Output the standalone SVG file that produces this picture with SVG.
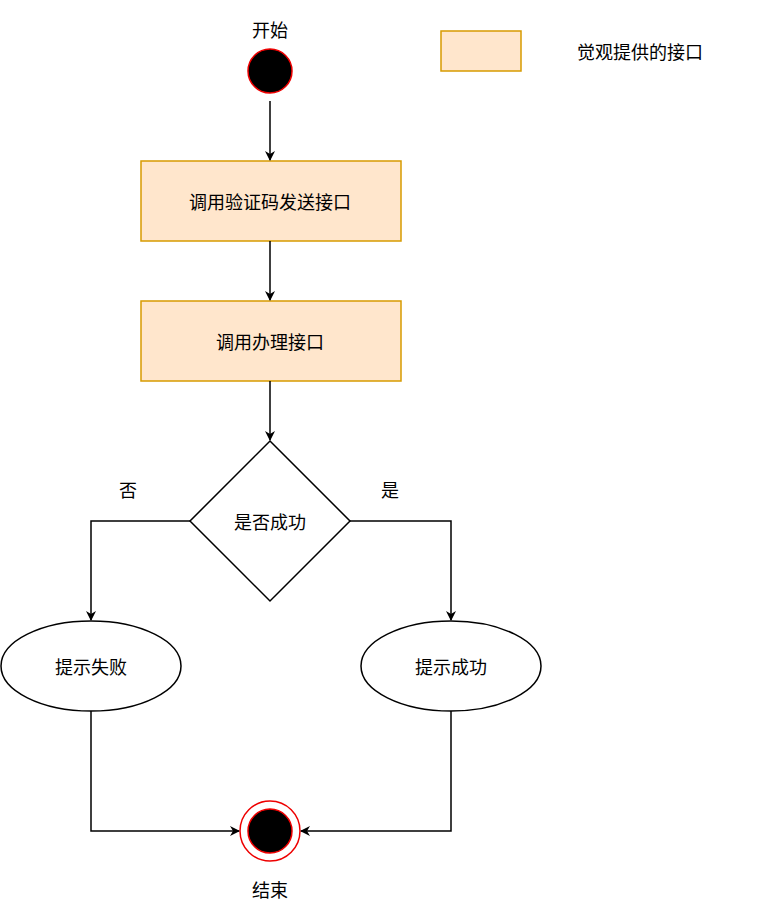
<svg xmlns="http://www.w3.org/2000/svg" width="762" height="920" viewBox="0 0 762 920">
<style>
text{font-family:"Noto Sans CJK SC","Liberation Sans",sans-serif;font-size:18px;fill:#000;text-anchor:middle;dominant-baseline:central}
.box{fill:#ffe6cc;stroke:#d79b00;stroke-width:1.5}
.ln{fill:none;stroke:#000;stroke-width:1.5}
</style>
<defs><marker id="a" viewBox="0 0 10 10" refX="9" refY="5" markerWidth="10" markerHeight="10" markerUnits="userSpaceOnUse" orient="auto"><path d="M0,0 L10,5 L0,10 L3,5 Z" fill="#000"/></marker></defs>
<rect width="762" height="920" fill="#fff"/>
<g id="legend"><rect class="box" x="441" y="31" width="80" height="40"/><text x="640" y="51">觉观提供的接口</text></g>
<g id="start"><text x="270" y="29">开始</text><circle cx="270" cy="71" r="22" fill="#000" stroke="#e00" stroke-width="1.5"/></g>
<g id="n1"><rect class="box" x="141" y="161" width="260" height="80"/><text x="270" y="201">调用验证码发送接口</text></g>
<g id="n2"><rect class="box" x="141" y="301" width="260" height="80"/><text x="270" y="341">调用办理接口</text></g>
<g id="dec"><polygon points="270,441 350,521 270,601 190,521" fill="#fff" stroke="#000" stroke-width="1.5"/><text x="270" y="521">是否成功</text></g>
<g id="fail"><ellipse cx="91" cy="666" rx="90" ry="45" fill="#fff" stroke="#000" stroke-width="1.5"/><text x="91" y="666">提示失败</text></g>
<g id="ok"><ellipse cx="451" cy="666" rx="90" ry="45" fill="#fff" stroke="#000" stroke-width="1.5"/><text x="451" y="666">提示成功</text></g>
<g id="end"><circle cx="270" cy="831" r="30" fill="#fff" stroke="#e00" stroke-width="1.5"/><circle cx="270" cy="831" r="22" fill="#000" stroke="#e00" stroke-width="1.5"/><text x="270" y="889">结束</text></g>
<g id="edges">
<path class="ln" d="M270,101 V160" marker-end="url(#a)"/>
<path class="ln" d="M270,241 V300" marker-end="url(#a)"/>
<path class="ln" d="M270,381 V440" marker-end="url(#a)"/>
<path class="ln" d="M190,521 H91 V620" marker-end="url(#a)"/>
<path class="ln" d="M350,521 H451 V620" marker-end="url(#a)"/>
<path class="ln" d="M91,711 V831 H239" marker-end="url(#a)"/>
<path class="ln" d="M451,711 V831 H301" marker-end="url(#a)"/>
<text x="128" y="489">否</text><text x="390" y="489">是</text>
</g>
</svg>
